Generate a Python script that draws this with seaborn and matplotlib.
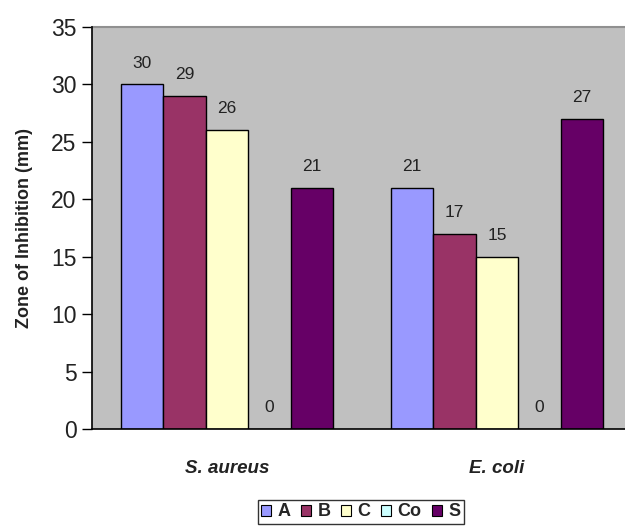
import matplotlib
matplotlib.use("Agg")
import matplotlib.pyplot as plt
import seaborn as sns
import pandas as pd

# Inhibition zones per organism and treatment
organisms = ["S. aureus", "E. coli"]
treatments = ["A", "B", "C", "Co", "S"]
zone_A = [30, 21]
zone_B = [29, 17]
zone_C = [26, 15]
zone_Co = [0, 0]
zone_S = [21, 27]
y_ticks = [0, 5, 10, 15, 20, 25, 30, 35]

palette = ["#9999FF", "#993366", "#FFFFCC", "#CCFFFF", "#660066"]

rows = []
for name, vals in zip(treatments, [zone_A, zone_B, zone_C, zone_Co, zone_S]):
    for org, v in zip(organisms, vals):
        rows.append({"Organism": org, "Treatment": name, "Zone": v})
df = pd.DataFrame(rows)

sns.set_theme(style="white")
plt.rcParams["font.family"] = ["Liberation Sans", "DejaVu Sans"]

fig = plt.figure(figsize=(6.25, 5.29), dpi=100)
ax = fig.add_axes([92 / 625, 1 - 429 / 529, 540 / 625, 402 / 529])
ax.set_facecolor("#C0C0C0")

sns.barplot(data=df, x="Organism", y="Zone", hue="Treatment",
            order=organisms, hue_order=treatments, palette=palette,
            width=0.785, edgecolor="black", linewidth=1.0,
            saturation=1, errorbar=None, ax=ax, legend=True)

for cont in ax.containers:
    ax.bar_label(cont, fmt="%d", padding=10, fontsize=12.5, color="#222222")

ax.set_ylim(0, 35)
ax.set_xlim(-0.5, 1.5)
ax.set_yticks(y_ticks)
ax.set_yticklabels([str(t) for t in y_ticks], fontsize=16.5, color="#222222")
ax.tick_params(axis="y", direction="out", length=7, width=1, color="black",
               left=True, pad=4)
ax.tick_params(axis="x", length=0, pad=22)
for lbl in ax.get_xticklabels():
    lbl.set_fontstyle("italic")
    lbl.set_fontweight("bold")
    lbl.set_fontsize(13.5)
    lbl.set_color("#222222")

ax.set_xlabel("")
ax.set_ylabel("Zone of Inhibition (mm)", fontsize=13, fontweight="bold",
              color="#222222")
ax.yaxis.set_label_coords(-0.11, 0.5)

for side in ["top", "right"]:
    ax.spines[side].set_visible(False)
ax.spines["left"].set_color("black")
ax.spines["left"].set_linewidth(1.2)
ax.spines["bottom"].set_color("black")
ax.spines["bottom"].set_linewidth(1.2)
ax.plot([0, 1], [1, 1], transform=ax.transAxes, color="#909090", lw=1.5,
        clip_on=False)

ax.legend_.remove()
handles = [plt.Rectangle((0, 0), 1, 1, facecolor=c, edgecolor="black", lw=0.8)
           for c in palette]
fig.legend(handles, treatments, loc="center",
           bbox_to_anchor=(361 / 625, 1 - 512 / 529),
           ncol=5, frameon=True, fancybox=False, edgecolor="black",
           prop={"weight": "bold", "size": 13},
           handlelength=0.55, handleheight=0.55, handletextpad=0.35,
           columnspacing=0.6, borderpad=0.2, borderaxespad=0)

fig.savefig("out.png", dpi=100)
